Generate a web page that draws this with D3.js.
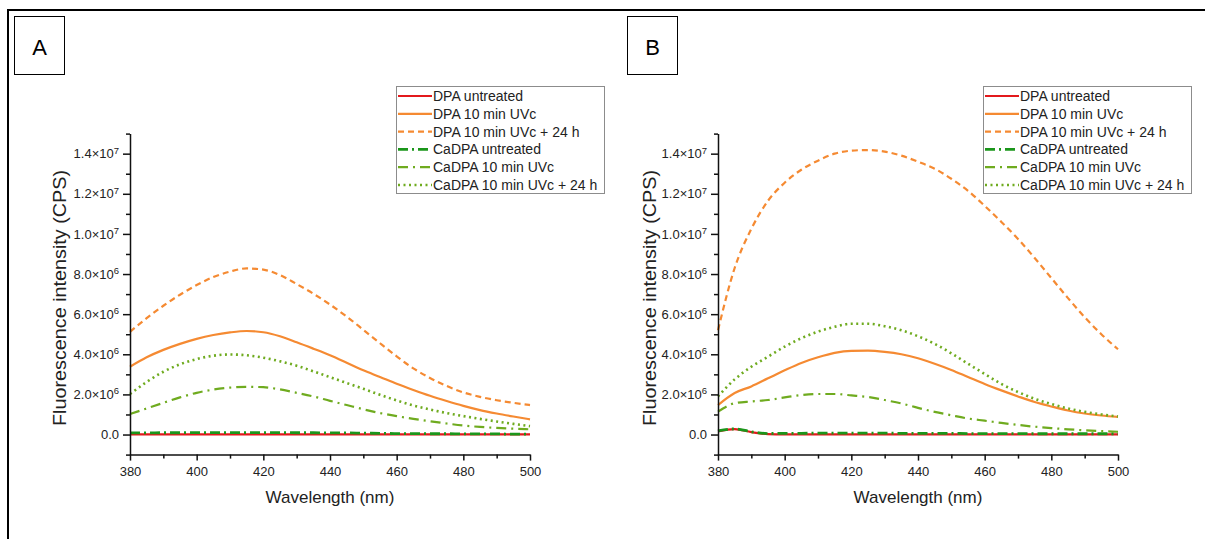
<!DOCTYPE html>
<html>
<head>
<meta charset="utf-8">
<script src="https://cdn.jsdelivr.net/npm/d3@7"></script>
<style>
  body { margin: 0; background: #fff; }
  svg { display: block; font-family: "Liberation Sans", Arial, sans-serif; }
</style>
</head>
<body>
<svg id="canvas"></svg>
<script>
var w = 1205;
var h = 539;

// wavelength (nm), values in 10^6 CPS
var wavelengths = [380, 385, 390, 395, 400, 405, 410, 415, 420, 425, 430, 435, 440,
                   445, 450, 455, 460, 465, 470, 475, 480, 485, 490, 495, 500];

// panel A
var aDpaUntreated = [0.01, 0.01, 0.01, 0.01, 0.01, 0.01, 0.01, 0.01, 0.01, 0.01, 0.01, 0.01, 0.01,
                     0.01, 0.01, 0.01, 0.01, 0.01, 0.01, 0.01, 0.01, 0.01, 0.01, 0.01, 0.01];
var aDpaUvc = [3.38, 3.85, 4.22, 4.52, 4.77, 4.96, 5.09, 5.16, 5.10, 4.90, 4.60, 4.28, 3.95,
               3.58, 3.20, 2.87, 2.53, 2.22, 1.93, 1.67, 1.43, 1.22, 1.05, 0.90, 0.76];
var aDpaUvc24 = [5.12, 5.80, 6.42, 6.97, 7.45, 7.85, 8.12, 8.28, 8.22, 7.95, 7.50, 7.02, 6.48,
                 5.88, 5.22, 4.55, 3.90, 3.30, 2.82, 2.42, 2.10, 1.88, 1.71, 1.58, 1.47];
var aCaUntreated = [0.08, 0.08, 0.09, 0.09, 0.10, 0.10, 0.10, 0.10, 0.10, 0.10, 0.09, 0.09, 0.08,
                    0.08, 0.07, 0.06, 0.05, 0.05, 0.04, 0.04, 0.03, 0.03, 0.03, 0.02, 0.02];
var aCaUvc = [1.02, 1.30, 1.58, 1.85, 2.08, 2.24, 2.34, 2.38, 2.36, 2.25, 2.08, 1.90, 1.68,
              1.47, 1.26, 1.07, 0.92, 0.78, 0.66, 0.55, 0.45, 0.38, 0.33, 0.29, 0.26];
var aCaUvc24 = [2.02, 2.62, 3.13, 3.50, 3.76, 3.93, 3.99, 3.95, 3.83, 3.65, 3.43, 3.15, 2.86,
                2.57, 2.28, 1.98, 1.70, 1.45, 1.25, 1.07, 0.92, 0.78, 0.65, 0.53, 0.42];

// panel B
var bDpaUntreated = [0.16, 0.27, 0.12, 0.02, 0.01, 0.01, 0.01, 0.01, 0.01, 0.01, 0.01, 0.01, 0.01,
                     0.01, 0.01, 0.01, 0.01, 0.01, 0.01, 0.01, 0.01, 0.01, 0.01, 0.01, 0.01];
var bDpaUvc = [1.47, 2.07, 2.40, 2.80, 3.20, 3.57, 3.85, 4.07, 4.17, 4.18, 4.12, 4.00, 3.80,
               3.53, 3.22, 2.87, 2.52, 2.20, 1.90, 1.62, 1.40, 1.20, 1.05, 0.95, 0.88];
var bDpaUvc24 = [5.20, 8.30, 10.25, 11.65, 12.55, 13.20, 13.65, 14.00, 14.15, 14.18, 14.10, 13.90, 13.60,
                 13.25, 12.75, 12.15, 11.40, 10.60, 9.75, 8.80, 7.80, 6.80, 5.85, 5.00, 4.25];
var bCaUntreated = [0.18, 0.28, 0.14, 0.05, 0.06, 0.06, 0.07, 0.07, 0.07, 0.07, 0.07, 0.06, 0.06,
                    0.06, 0.06, 0.05, 0.05, 0.05, 0.05, 0.04, 0.04, 0.04, 0.04, 0.04, 0.04];
var bCaUvc = [1.14, 1.56, 1.65, 1.72, 1.85, 1.97, 2.02, 2.02, 1.95, 1.87, 1.72, 1.55, 1.33,
              1.13, 0.96, 0.80, 0.69, 0.58, 0.48, 0.39, 0.32, 0.26, 0.21, 0.17, 0.14];
var bCaUvc24 = [1.90, 2.75, 3.38, 3.88, 4.38, 4.80, 5.13, 5.37, 5.52, 5.52, 5.40, 5.20, 4.90,
                4.52, 4.05, 3.53, 3.02, 2.52, 2.12, 1.78, 1.52, 1.30, 1.13, 1.00, 0.90];

var seriesNames = ["DPA untreated", "DPA 10 min UVc", "DPA 10 min UVc + 24 h",
                   "CaDPA untreated", "CaDPA 10 min UVc", "CaDPA 10 min UVc + 24 h"];

var xMajor = [380, 400, 420, 440, 460, 480, 500];
var xMinor = [390, 410, 430, 450, 470, 490];
var yMajor = [0, 2, 4, 6, 8, 10, 12, 14];
var yMinor = [-1, 1, 3, 5, 7, 9, 11, 13, 15];
var yLabelBase = ["0.0", "2.0×10", "4.0×10", "6.0×10", "8.0×10", "1.0×10", "1.2×10", "1.4×10"];
var yLabelExp = ["", "6", "6", "6", "6", "7", "7", "7"];

// line styles, same order as seriesNames
var styles = [
  {color: "#e3191c", dash: null, width: 2.2},
  {color: "#f58a32", dash: null, width: 2.2},
  {color: "#f58a32", dash: "6,4", width: 2.2},
  {color: "#1b961b", dash: "10,4,2,4", width: 2.8},
  {color: "#6fab1f", dash: "10,5,2,5", width: 2.2},
  {color: "#6fab1f", dash: "2,3.5", width: 2.6}
];

var panels = [
  {label: "A", x0: 130, x1: 530, box: [14, 16, 50, 58], legendX: 396, yTitleX: 66,
   series: [aDpaUntreated, aDpaUvc, aDpaUvc24, aCaUntreated, aCaUvc, aCaUvc24]},
  {label: "B", x0: 718, x1: 1118, box: [627, 16, 50, 58], legendX: 983, yTitleX: 656,
   series: [bDpaUntreated, bDpaUvc, bDpaUvc24, bCaUntreated, bCaUvc, bCaUvc24]}
];

var svg = d3.select("#canvas")
  .attr("width", w)
  .attr("height", h)
  .attr("viewBox", [0, 0, w, h]);

svg.append("rect").attr("width", w).attr("height", h).attr("fill", "#fff");

// outer frame (top + left)
svg.append("path")
  .attr("d", "M8," + h + "V10H" + w)
  .attr("fill", "none")
  .attr("stroke", "#000")
  .attr("stroke-width", 2);

var y = d3.scaleLinear().domain([-1, 15]).range([454.6, 133.6]);

panels.forEach(function (p) {
  var g = svg.append("g");
  var x = d3.scaleLinear().domain([380, 500]).range([p.x0, p.x1]);

  // panel letter box
  g.append("rect")
    .attr("x", p.box[0] + 0.5).attr("y", p.box[1] + 0.5)
    .attr("width", p.box[2]).attr("height", p.box[3])
    .attr("fill", "#fff").attr("stroke", "#000").attr("stroke-width", 1);
  g.append("text")
    .attr("x", p.box[0] + p.box[2] / 2 + 0.5)
    .attr("y", p.box[1] + 39)
    .attr("text-anchor", "middle")
    .attr("font-size", 22)
    .attr("fill", "#000")
    .text(p.label);

  // curves
  var line = d3.line()
    .x(function (d, i) { return x(wavelengths[i]); })
    .y(function (d) { return y(d); })
    .curve(d3.curveMonotoneX);

  g.selectAll(".curve")
    .data(p.series)
    .enter()
    .append("path")
    .attr("class", "curve")
    .attr("d", line)
    .attr("fill", "none")
    .attr("stroke", function (d, i) { return styles[i].color; })
    .attr("stroke-width", function (d, i) { return styles[i].width; })
    .attr("stroke-dasharray", function (d, i) { return styles[i].dash; });

  // minor ticks
  g.append("g")
    .attr("transform", "translate(" + p.x0 + ",0)")
    .call(d3.axisLeft(y).tickValues(yMinor).tickSize(4).tickFormat(""))
    .call(function (a) { a.select(".domain").remove(); });
  g.append("g")
    .attr("transform", "translate(0," + y(-1) + ")")
    .call(d3.axisBottom(x).tickValues(xMinor).tickSize(4).tickFormat(""))
    .call(function (a) { a.select(".domain").remove(); });

  // major axes
  var yAxis = g.append("g")
    .attr("transform", "translate(" + p.x0 + ",0)")
    .call(d3.axisLeft(y).tickValues(yMajor).tickSize(7).tickSizeOuter(0).tickPadding(4));
  yAxis.selectAll(".tick text").each(function (d, i) {
    var t = d3.select(this).text(null);
    t.append("tspan").text(yLabelBase[i]);
    if (yLabelExp[i]) {
      t.append("tspan").attr("dy", "-0.5em").attr("font-size", 9.5).text(yLabelExp[i]);
    }
  });

  g.append("g")
    .attr("transform", "translate(0," + y(-1) + ")")
    .call(d3.axisBottom(x).tickValues(xMajor).tickSize(6).tickSizeOuter(0).tickPadding(6));

  g.selectAll(".domain, .tick line")
    .attr("stroke", "#111")
    .attr("stroke-width", 1.5);
  g.selectAll(".tick text")
    .attr("font-family", "Liberation Sans, Arial, sans-serif")
    .attr("font-size", 13)
    .attr("fill", "#222");

  // axis titles
  g.append("text")
    .attr("transform", "translate(" + p.yTitleX + ",298) rotate(-90)")
    .attr("text-anchor", "middle")
    .attr("font-size", 18)
    .attr("textLength", 256)
    .attr("lengthAdjust", "spacingAndGlyphs")
    .attr("fill", "#222")
    .text("Fluorescence intensity (CPS)");
  g.append("text")
    .attr("x", (p.x0 + p.x1) / 2)
    .attr("y", 503)
    .attr("text-anchor", "middle")
    .attr("font-size", 17)
    .attr("fill", "#222")
    .text("Wavelength (nm)");

  // legend
  var lg = g.append("g").attr("transform", "translate(" + p.legendX + ",86)");
  lg.append("rect")
    .attr("x", 0.5).attr("y", 0.5)
    .attr("width", 208).attr("height", 107)
    .attr("fill", "#fff").attr("stroke", "#8c8c8c").attr("stroke-width", 1);
  var rows = lg.selectAll(".row")
    .data(seriesNames)
    .enter()
    .append("g")
    .attr("class", "row")
    .attr("transform", function (d, i) { return "translate(0," + (10 + i * 17.8) + ")"; });
  rows.append("line")
    .attr("x1", 2).attr("x2", 36)
    .attr("stroke", function (d, i) { return styles[i].color; })
    .attr("stroke-width", function (d, i) { return styles[i].width; })
    .attr("stroke-dasharray", function (d, i) { return styles[i].dash; });
  rows.append("text")
    .attr("x", 37)
    .attr("dy", "0.36em")
    .attr("font-size", 14)
    .attr("fill", "#222")
    .text(function (d) { return d; });
});
</script>
</body>
</html>
